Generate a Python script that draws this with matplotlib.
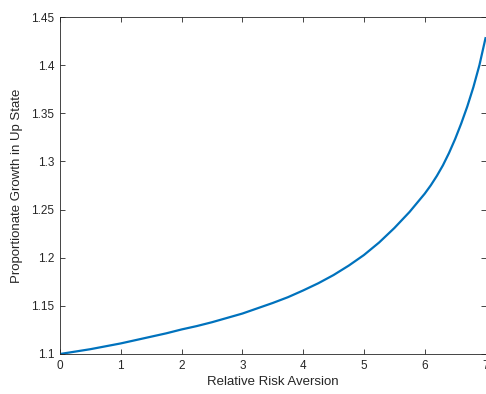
import matplotlib
matplotlib.use('Agg')
import matplotlib.pyplot as plt

# values
risk_aversion = [0, 0.25, 0.5, 0.75, 1, 1.25, 1.5, 1.75, 2, 2.25, 2.5, 2.75,
                 3, 3.25, 3.5, 3.75, 4, 4.25, 4.5, 4.75, 5, 5.25, 5.5, 5.75,
                 6, 6.1, 6.2, 6.3, 6.4, 6.5, 6.6, 6.7, 6.8, 6.9, 7]
growth_up = [1.100, 1.1025, 1.105, 1.108, 1.111, 1.1145, 1.118, 1.1215,
             1.1255, 1.129, 1.133, 1.1375, 1.142, 1.1475, 1.153, 1.159,
             1.166, 1.1735, 1.182, 1.1918, 1.2028, 1.2158, 1.2308, 1.2475,
             1.2665, 1.2752, 1.285, 1.296, 1.3088, 1.3232, 1.3393, 1.357,
             1.377, 1.400, 1.428]

x_ticks = [0, 1, 2, 3, 4, 5, 6, 7]
y_ticks = [1.1, 1.15, 1.2, 1.25, 1.3, 1.35, 1.4, 1.45]
y_ticklabels = ['1.1', '1.15', '1.2', '1.25', '1.3', '1.35', '1.4', '1.45']

plt.rcParams['font.family'] = ['Liberation Sans', 'DejaVu Sans']
axis_color = '#262626'

fig = plt.figure(figsize=(4.86, 3.94), dpi=100)
ax = fig.add_axes([60 / 486, 40 / 394, 425.5 / 486, 337 / 394])

ax.plot(risk_aversion, growth_up, color='#0072BD', linewidth=1.6,
        solid_joinstyle='round')

ax.set_xlim(0, 7)
ax.set_ylim(1.1, 1.45)
ax.set_xticks(x_ticks)
ax.set_yticks(y_ticks)
ax.set_yticklabels(y_ticklabels)

ax.tick_params(direction='in', length=3.5, width=0.6, colors=axis_color,
               labelsize=8.5, top=True, right=True, pad=4)
for s in ax.spines.values():
    s.set_color(axis_color)
    s.set_linewidth(0.6)

ax.set_xlabel('Relative Risk Aversion', fontsize=9.5, color=axis_color, labelpad=3)
ax.set_ylabel('Proportionate Growth in Up State', fontsize=9.5, color=axis_color, labelpad=6)

fig.savefig('out.png', dpi=100)
